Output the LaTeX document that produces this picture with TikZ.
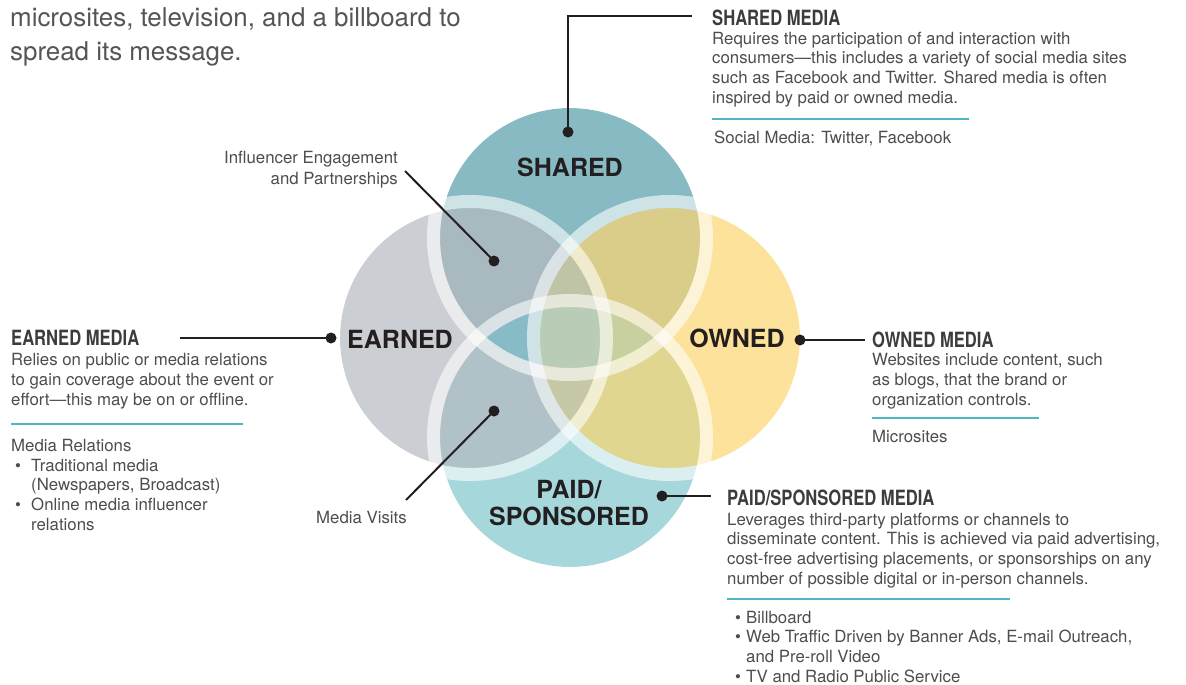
\documentclass[tikz,border=0pt]{standalone}
\usepackage{fontspec}
\setmainfont{TeX Gyre Heros}
\newfontfamily\condfont[FakeStretch=0.79]{TeX Gyre Heros}
\usetikzlibrary{calc}

\definecolor{sharedc}{RGB}{85,156,169}
\definecolor{paidc}{RGB}{128,198,204}
\definecolor{earnedc}{RGB}{181,185,192}
\definecolor{ownedc}{RGB}{251,214,112}
\definecolor{sepc}{RGB}{135,187,197}
\definecolor{sopc}{RGB}{200,208,160}
\definecolor{seoc}{RGB}{190,196,165}
\definecolor{eopc}{RGB}{198,200,166}
\definecolor{allc}{RGB}{184,204,182}
\definecolor{ink}{RGB}{35,31,32}
\definecolor{txt}{RGB}{77,77,77}
\definecolor{headc}{RGB}{60,60,60}
\definecolor{rulec}{RGB}{77,184,196}

\newcommand{\bul}[2]{\makebox[#1][l]{\hspace*{#2}\textbullet}}

% multi-line nodes are placed by the baseline of their last line
\tikzset{
	body/.style={font=\fontsize{16.8}{19.6}\selectfont, text=txt, align=left, inner sep=0, anchor=base west},
	head/.style={font=\condfont\bfseries\fontsize{21}{21}\selectfont, text=headc, inner sep=0, anchor=base west},
	big/.style={font=\bfseries\fontsize{25}{27}\selectfont, text=ink, align=center, inner sep=0, anchor=base},
	dot/.style={circle, fill=ink, inner sep=0, minimum size=11pt},
	link/.style={ink, line width=2pt},
	rulebar/.style={rulec, line width=1.5pt},
	ring/.style={white, opacity=.6, line width=13pt},
}

\begin{document}
\begin{tikzpicture}[x=1pt,y=-1pt]
			%%%%% START %%%%%
			\useasboundingbox (0,0) rectangle (1186,685);
			
			\node[body, font=\fontsize{25.9}{33}\selectfont, text={rgb,255:red,85;green,85;blue,85}] (intro) at (10,60) {microsites, television, and a billboard to\\spread its message.};
			
			\coordinate (cs) at (570,238);
			\coordinate (ce) at (470,338);
			\coordinate (co) at (670,338);
			\coordinate (cp) at (570,437);
			
			\fill[sharedc, fill opacity=.7] (cs) circle (130pt);
			\fill[paidc, fill opacity=.7] (cp) circle (130pt);
			\fill[earnedc, fill opacity=.7] (ce) circle (130pt);
			\fill[ownedc, fill opacity=.7] (co) circle (130pt);
			
			% centre pieces
			\begin{scope}
				\clip (cs) circle (130pt); \clip (ce) circle (130pt);
				\fill[sepc] (cp) circle (130pt);
			\end{scope}
			\begin{scope}
				\clip (cs) circle (130pt); \clip (co) circle (130pt);
				\fill[sopc] (cp) circle (130pt);
			\end{scope}
			\begin{scope}
				\clip (cs) circle (130pt); \clip (ce) circle (130pt);
				\fill[seoc] (co) circle (130pt);
			\end{scope}
			\begin{scope}
				\clip (cp) circle (130pt); \clip (ce) circle (130pt);
				\fill[eopc] (co) circle (130pt);
			\end{scope}
			\begin{scope}
				\clip (cs) circle (130pt); \clip (ce) circle (130pt); \clip (co) circle (130pt);
				\fill[allc] (cp) circle (130pt);
			\end{scope}
			
			\draw[ring] (cs) circle (136.5pt);
			\draw[ring] (cp) circle (136.5pt);
			\draw[ring] (ce) circle (136.5pt);
			\draw[ring] (co) circle (136.5pt);
			
			\node[big] (sharedlbl) at (570,176) {SHARED};
			\node[big] (earnedlbl) at (400,348) {EARNED};
			\node[big] (ownedlbl) at (737,347) {OWNED};
			\node[big] (paidlbl) at (569,525) {PAID/\\SPONSORED};
			
			% connectors
			\node[dot] (shareddot) at (568,132) {};
			\coordinate (sharedend) at (692,16);
			\draw[link] (shareddot.center) |- (sharedend);
			
			\node[dot] (earneddot) at (331,338) {};
			\coordinate (earnedend) at (180,338);
			\draw[link] (earneddot.center) -- (earnedend);
			
			\node[dot] (owneddot) at (800,340) {};
			\coordinate (ownedend) at (865,340);
			\draw[link] (owneddot.center) -- (ownedend);
			
			\node[dot] (paiddot) at (662,496) {};
			\coordinate (paidend) at (711,496);
			\draw[link] (paiddot.center) -- (paidend);
			
			\node[dot] (infdot) at (494,261) {};
			\coordinate (infend) at (405,171);
			\draw[link] (infdot.center) -- (infend);
			
			\node[dot] (visitdot) at (494,411) {};
			\coordinate (visitend) at (406,500);
			\draw[link] (visitdot.center) -- (visitend);
			
			\node[body, align=right, anchor=base east] (inflbl) at (398,184) {Influencer Engagement\\[1.4pt]and Partnerships};
			\node[body] (visitlbl) at (316,523) {Media Visits};
			
			% shared media
			\node[head] (sharedhead) at (712,26) {SHARED MEDIA};
			\node[body] (sharedtxt) at (712,103) {Requires the participation of and interaction with\\consumers—this includes a variety of social media sites\\such as Facebook and Twitter. Shared media is often\\inspired by paid or owned media.};
			\draw[rulebar] (712,119) -- (969,119);
			\node[body] (sharedlist) at (714,143) {Social Media: Twitter, Facebook};
			
			% earned media
			\node[head] (earnedhead) at (11,345) {EARNED MEDIA};
			\node[body] (earnedtxt) at (11,405) {Relies on public or media relations\\to gain coverage about the event or\\effort—this may be on or offline.};
			\draw[rulebar] (11,424) -- (243,424);
			\node[body] (earnedlist) at (11,530) {Media Relations\\\bul{20pt}{4pt}Traditional media\\\hspace*{20pt}(Newspapers, Broadcast)\\\bul{20pt}{4pt}Online media influencer\\\hspace*{20pt}relations};
			
			% owned media
			\node[head] (ownedhead) at (872,347) {OWNED MEDIA};
			\node[body] (ownedtxt) at (872,405) {Websites include content, such\\as blogs, that the brand or\\organization controls.};
			\draw[rulebar] (872,418) -- (1039,418);
			\node[body] (ownedlist) at (872,442) {Microsites};
			
			% paid media
			\node[head] (paidhead) at (727,505) {PAID/SPONSORED MEDIA};
			\node[body] (paidtxt) at (727,584) {Leverages third-party platforms or channels to\\disseminate content. This is achieved via paid advertising,\\cost-free advertising placements, or sponsorships on any\\number of possible digital or in-person channels.};
			\draw[rulebar] (727,599) -- (1010,599);
			\node[body] (paidlist) at (727,682) {\bul{19pt}{8pt}Billboard\\\bul{19pt}{8pt}Web Traffic Driven by Banner Ads, E-mail Outreach,\\\hspace*{19pt}and Pre-roll Video\\\bul{19pt}{8pt}TV and Radio Public Service};
			
			%%%%% END %%%%%
\end{tikzpicture}
\end{document}
